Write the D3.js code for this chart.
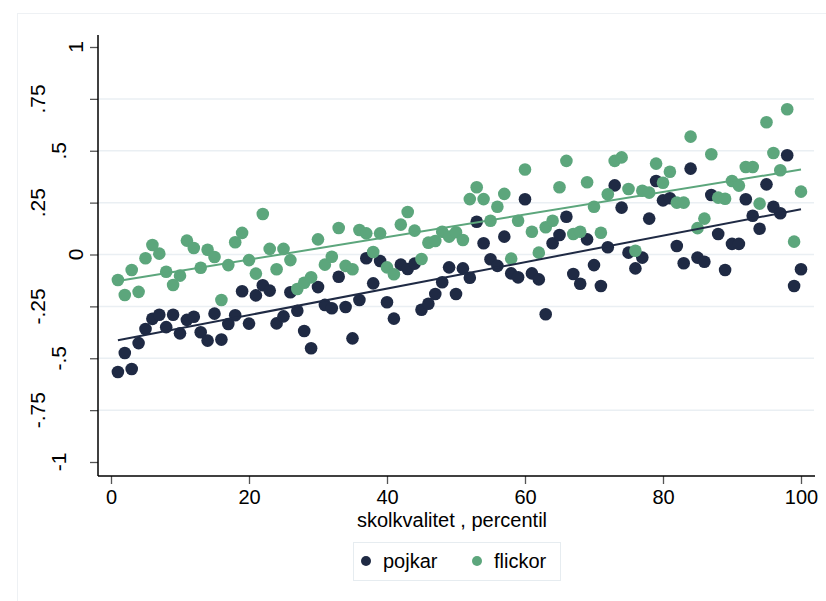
<!DOCTYPE html>
<html>
<head>
<meta charset="utf-8">
<script src="https://cdn.jsdelivr.net/npm/d3@7"></script>
<style>
  body { margin: 0; background: #fff; }
  svg text { font-family: "Liberation Sans", Arial, sans-serif; fill: #000; }
</style>
</head>
<body>
<script>
// percentil (x)
var percentil = d3.range(1, 101);

// pojkar
var pojkar = [
  -0.566, -0.475, -0.552, -0.427, -0.359, -0.31, -0.29, -0.35, -0.29, -0.38,
  -0.315, -0.30, -0.375, -0.415, -0.285, -0.41, -0.335, -0.293, -0.177, -0.333,
  -0.197, -0.148, -0.174, -0.332, -0.298, -0.182, -0.271, -0.369, -0.452, -0.157,
  -0.243, -0.259, -0.107, -0.253, -0.404, -0.219, -0.018, -0.139, -0.031, -0.23,
  -0.309, -0.049, -0.07, -0.044, -0.266, -0.237, -0.19, -0.134, -0.062, -0.19,
  -0.067, -0.112, 0.158, 0.054, -0.023, -0.055, 0.086, -0.091, -0.11, 0.266,
  -0.091, -0.12, -0.288, 0.054, 0.094, 0.182, -0.094, -0.141, 0.073, -0.051,
  -0.152, 0.035, 0.333, 0.226, 0.009, -0.067, -0.015, 0.173, 0.354, 0.261,
  0.271, 0.041, -0.042, 0.414, -0.015, -0.035, 0.287, 0.099, -0.075, 0.051,
  0.051, 0.266, 0.187, 0.124, 0.338, 0.23, 0.199, 0.478, -0.152, -0.071
];

// flickor
var flickor = [
  -0.123, -0.195, -0.075, -0.18, -0.018, 0.046, 0.004, -0.083, -0.147, -0.102,
  0.067, 0.031, -0.064, 0.023, -0.012, -0.219, -0.051, 0.059, 0.104, -0.027,
  -0.092, 0.195, 0.027, -0.071, 0.027, -0.027, -0.166, -0.136, -0.11, 0.073,
  -0.049, -0.011, 0.128, -0.055, -0.071, 0.118, 0.102, 0.012, 0.102, -0.062,
  -0.095, 0.144, 0.205, 0.115, -0.022, 0.057, 0.065, 0.11, 0.086, 0.107,
  0.07, 0.267, 0.324, 0.267, 0.163, 0.23, 0.292, -0.02, 0.163, 0.41,
  0.11, 0.009, 0.131, 0.163, 0.324, 0.451, 0.099, 0.11, 0.348, 0.23,
  0.105, 0.29, 0.451, 0.468, 0.316, 0.018, 0.307, 0.298, 0.438, 0.346,
  0.399, 0.25, 0.25, 0.568, 0.127, 0.173, 0.483, 0.274, 0.269, 0.354,
  0.332, 0.422, 0.422, 0.245, 0.637, 0.489, 0.406, 0.7, 0.062, 0.303
];

var xTicks = [0, 20, 40, 60, 80, 100];
var yTicks = [-1, -0.75, -0.5, -0.25, 0, 0.25, 0.5, 0.75, 1];
var yTickLabels = ["-1", "-.75", "-.5", "-.25", "0", ".25", ".5", ".75", "1"];
var seriesNames = ["pojkar", "flickor"];
var xTitle = "skolkvalitet , percentil";

var colors = { pojkar: "#1f2a44", flickor: "#5ca67c" };

var W = 826, H = 601;
var svg = d3.select("body").append("svg")
    .attr("width", W)
    .attr("height", H);

// outer faint frame
svg.append("rect")
    .attr("x", 17.5).attr("y", 13.5)
    .attr("width", 900).attr("height", 700)
    .attr("fill", "#fff")
    .attr("stroke", "#eef1f4")
    .attr("stroke-width", 1);

var x = d3.scaleLinear().domain([0, 100]).range([111, 801]);
var y = d3.scaleLinear().domain([-1, 1]).range([462, 47]);

var pLeft = 98, pRight = 815, pTop = 35, pBottom = 476;

// gridlines (not at the ends)
svg.append("g").selectAll("line")
    .data(yTicks.filter(function(d) { return Math.abs(d) < 1; }))
    .enter()
    .append("line")
    .attr("x1", pLeft).attr("x2", pRight - 1)
    .attr("y1", function(d) { return y(d); })
    .attr("y2", function(d) { return y(d); })
    .attr("stroke", "#eaeff3")
    .attr("stroke-width", 1.5);

// y axis
var yAxis = svg.append("g")
    .attr("transform", "translate(" + pLeft + ",0)")
    .call(d3.axisLeft(y).tickValues(yTicks).tickSize(8).tickFormat(""));
yAxis.select(".domain").remove();
yAxis.selectAll(".tick line").attr("stroke", "#555").attr("stroke-width", 1.3);
svg.append("line")
    .attr("x1", pLeft).attr("x2", pLeft)
    .attr("y1", pTop).attr("y2", pBottom)
    .attr("stroke", "#000").attr("stroke-width", 1.5);

// rotated y labels
var ylab = svg.append("g").selectAll("text")
    .data(yTicks)
    .enter()
    .append("text")
    .attr("font-size", "21px")
    .attr("text-anchor", "middle")
    .attr("dominant-baseline", "central")
    .text(function(d, i) { return yTickLabels[i]; });
ylab.each(function(d) {
    var w = this.getComputedTextLength();
    var cx = w > 26 ? 37 : (w > 14 ? 58 : 75);
    d3.select(this)
        .attr("transform", "translate(" + cx + "," + y(d) + ") rotate(-90)");
});

// x axis
var xAxis = svg.append("g")
    .attr("transform", "translate(0," + pBottom + ")")
    .call(d3.axisBottom(x).tickValues(xTicks).tickSize(8).tickPadding(6));
xAxis.select(".domain").remove();
xAxis.selectAll(".tick line").attr("stroke", "#555").attr("stroke-width", 1.3);
xAxis.selectAll(".tick text")
    .attr("font-size", "20px")
    .attr("font-family", "Liberation Sans, Arial, sans-serif")
    .attr("fill", "#000");
svg.append("line")
    .attr("x1", pLeft).attr("x2", pRight)
    .attr("y1", pBottom).attr("y2", pBottom)
    .attr("stroke", "#000").attr("stroke-width", 1.5);

svg.append("text")
    .attr("x", 452).attr("y", 527)
    .attr("text-anchor", "middle")
    .attr("font-size", "20px")
    .text(xTitle);

// scatter
var series = [
    { name: "pojkar", values: pojkar },
    { name: "flickor", values: flickor }
];

series.forEach(function(s) {
    svg.append("g").selectAll("circle")
        .data(s.values)
        .enter()
        .append("circle")
        .attr("cx", function(d, i) { return x(percentil[i]); })
        .attr("cy", function(d) { return y(d); })
        .attr("r", 6.3)
        .attr("fill", colors[s.name]);
});

// linear fit lines
series.forEach(function(s) {
    var mx = d3.mean(percentil), my = d3.mean(s.values);
    var sxy = d3.sum(percentil, function(v, i) { return (v - mx) * (s.values[i] - my); });
    var sxx = d3.sum(percentil, function(v) { return (v - mx) * (v - mx); });
    var b = sxy / sxx, a = my - b * mx;
    var ends = [percentil[0], percentil[percentil.length - 1]];
    svg.append("path")
        .datum(ends)
        .attr("d", d3.line()
            .x(function(d) { return x(d); })
            .y(function(d) { return y(a + b * d); }))
        .attr("fill", "none")
        .attr("stroke", colors[s.name])
        .attr("stroke-width", 2);
});

// legend
var lg = svg.append("g");
lg.append("rect")
    .attr("x", 353.5).attr("y", 542.5)
    .attr("width", 207).attr("height", 38)
    .attr("fill", "#fff")
    .attr("stroke", "#e6ecf0");
var legX = [366, 477];
seriesNames.forEach(function(n, i) {
    lg.append("circle")
        .attr("cx", legX[i]).attr("cy", 561)
        .attr("r", 5)
        .attr("fill", colors[n]);
    lg.append("text")
        .attr("x", legX[i] + 17).attr("y", 568)
        .attr("font-size", "20px")
        .text(n);
});
</script>
</body>
</html>
